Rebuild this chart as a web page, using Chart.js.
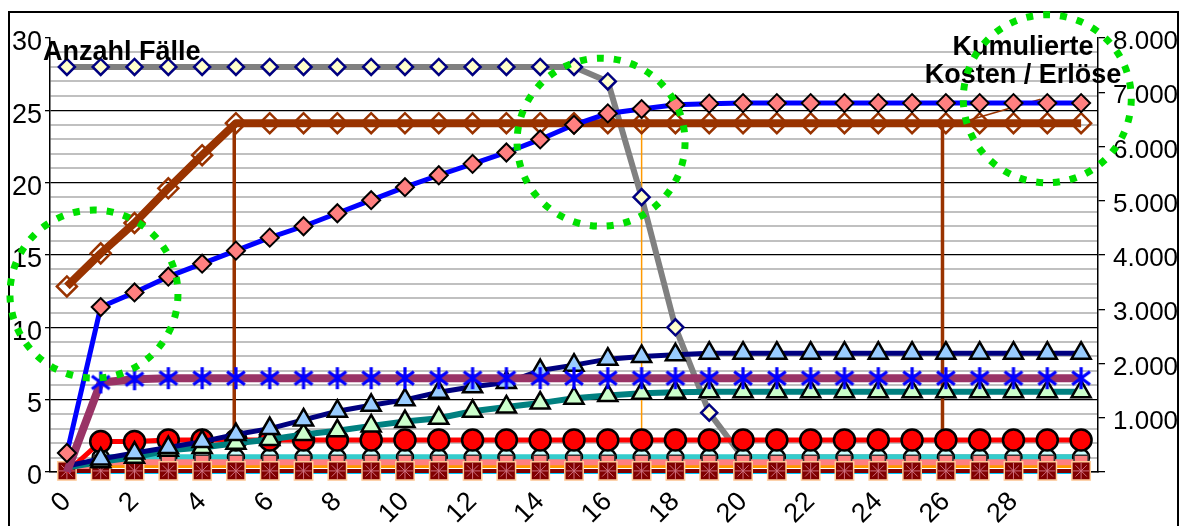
<!DOCTYPE html>
<html>
<head>
<meta charset="utf-8">
<script src="https://cdn.jsdelivr.net/npm/chart.js@4.4.1/dist/chart.umd.min.js"></script>
<style>
  body { margin: 0; background: #fff; }
  canvas { display: block; }
</style>
</head>
<body>
<canvas id="chart" width="1185" height="526"></canvas>
<script>
// Tage 0..30
const tage = [0, 1, 2, 3, 4, 5, 6, 7, 8, 9, 10, 11, 12, 13, 14, 15, 16, 17, 18, 19, 20, 21, 22, 23, 24, 25, 26, 27, 28, 29, 30];
const xBeschriftung = [0, 2, 4, 6, 8, 10, 12, 14, 16, 18, 20, 22, 24, 26, 28];

// linke Achse: Anzahl Fälle
const anzahlFaelle = [28, 28, 28, 28, 28, 28, 28, 28, 28, 28, 28, 28, 28, 28, 28, 28, 27, 19, 10, 4.1, 1, 1, 1, 1, 1, 1, 1, 1, 1, 1, 1];

// rechte Achse: kumulierte Kosten / Erlöse
const kostenGesamt = [350, 3040, 3310, 3600, 3840, 4080, 4320, 4530, 4770, 5010, 5250, 5470, 5680, 5890, 6130, 6400, 6610, 6690, 6770, 6790, 6800, 6800, 6800, 6800, 6800, 6800, 6800, 6800, 6800, 6800, 6800];
const erloese = [3420, 4030, 4590, 5230, 5840, 6430, 6430, 6430, 6430, 6430, 6430, 6430, 6430, 6430, 6430, 6430, 6430, 6430, 6430, 6430, 6430, 6430, 6430, 6430, 6430, 6430, 6430, 6430, 6430, 6430, 6430];
const kostenA = [0, 1650, 1710, 1730, 1730, 1730, 1730, 1730, 1730, 1730, 1730, 1730, 1730, 1730, 1730, 1730, 1730, 1730, 1730, 1730, 1730, 1730, 1730, 1730, 1730, 1730, 1730, 1730, 1730, 1730, 1730];
const kostenB = [110, 240, 350, 450, 560, 690, 800, 960, 1120, 1230, 1330, 1470, 1570, 1650, 1870, 1970, 2080, 2130, 2160, 2190, 2190, 2190, 2190, 2190, 2190, 2190, 2190, 2190, 2190, 2190, 2190];
const kostenC = [80, 190, 270, 400, 450, 530, 600, 690, 760, 850, 930, 990, 1120, 1200, 1270, 1360, 1410, 1450, 1470, 1480, 1480, 1480, 1480, 1480, 1480, 1480, 1480, 1480, 1480, 1480, 1480];
const kostenD = [0, 560, 560, 590, 590, 590, 590, 590, 590, 590, 590, 590, 590, 590, 590, 590, 590, 590, 590, 590, 590, 590, 590, 590, 590, 590, 590, 590, 590, 590, 590];
const kostenE = [0, 270, 270, 270, 270, 270, 270, 270, 270, 270, 270, 270, 270, 270, 270, 270, 270, 270, 270, 270, 270, 270, 270, 270, 270, 270, 270, 270, 270, 270, 270];
const kostenF = [0, 180, 180, 180, 180, 180, 180, 180, 180, 180, 180, 180, 180, 180, 180, 180, 180, 180, 180, 180, 180, 180, 180, 180, 180, 180, 180, 180, 180, 180, 180];
const kostenG = [0, 110, 110, 110, 110, 110, 110, 110, 110, 110, 110, 110, 110, 110, 110, 110, 110, 110, 110, 110, 110, 110, 110, 110, 110, 110, 110, 110, 110, 110, 110];
const kostenH = [20, 20, 20, 20, 20, 20, 20, 20, 20, 20, 20, 20, 20, 20, 20, 20, 20, 20, 20, 20, 20, 20, 20, 20, 20, 20, 20, 20, 20, 20, 20];
const kostenI = [0, 0, 0, 0, 0, 0, 0, 0, 0, 0, 0, 0, 0, 0, 0, 0, 0, 0, 0, 0, 0, 0, 0, 0, 0, 0, 0, 0, 0, 0, 0];

// senkrechte Markierungen auf der rechten Achse
const markierungBraun = [4.95, 25.9];
const markierungOrange = [17];
const markierungOben = 6430;
const markierungUnten = 780;
const schraegeLinie = [[26.5, 6450], [28.8, 6870]];

// grüne Kreise (Tag, Anzahl Fälle)
const kreise = [[0.8, 12.3], [15.8, 22.8], [29.0, 25.8]];

function punkte(werte) {
  return tage.map((t, i) => ({ x: t, y: werte[i] }));
}

function senkrechte(xs) {
  const p = [];
  xs.forEach(x => {
    p.push({ x: x, y: markierungOben }, { x: x, y: markierungUnten }, { x: x, y: null });
  });
  return p;
}

// Sternchen wie in Excel: senkrechter Strich und zwei Schrägen
function sternchen(farbe, r, breite) {
  const c = document.createElement('canvas');
  c.width = c.height = 2 * r + 4;
  const g = c.getContext('2d');
  const m = r + 2;
  g.strokeStyle = farbe;
  g.lineWidth = breite;
  g.beginPath();
  g.moveTo(m, m - r); g.lineTo(m, m + r);
  const dx = Math.cos(Math.PI / 5) * r, dy = Math.sin(Math.PI / 5) * r;
  g.moveTo(m - dx, m - dy); g.lineTo(m + dx, m + dy);
  g.moveTo(m - dx, m + dy); g.lineTo(m + dx, m - dy);
  g.stroke();
  return c;
}
const blauerStern = sternchen('#0000FF', 11, 3.2);

const ohneErsten = r => ctx => ctx.dataIndex === 0 ? 0 : r;

const schrift = '"Liberation Sans", Arial, sans-serif';

const zeichnungen = {
  id: 'zeichnungen',
  beforeDraw(chart) {
    const ctx = chart.ctx;
    ctx.save();
    ctx.fillStyle = '#fff';
    ctx.fillRect(0, 0, chart.width, chart.height);
    ctx.strokeStyle = '#000';
    ctx.lineWidth = 2;
    ctx.strokeRect(9, 12, 1169, 600);
    ctx.restore();
  },
  afterDraw(chart) {
    const ctx = chart.ctx;
    const area = chart.chartArea;
    ctx.save();
    ctx.fillStyle = '#000';
    ctx.font = 'bold 27px ' + schrift;
    ctx.textAlign = 'left';
    ctx.fillText('Anzahl Fälle', area.left - 7, 60);
    ctx.textAlign = 'center';
    ctx.fillText('Kumulierte', area.right - 75, 55);
    ctx.fillText('Kosten / Erlöse', area.right - 75, 83);

    // gepunktete Kreise
    ctx.strokeStyle = '#00E000';
    ctx.lineWidth = 7;
    ctx.setLineDash([7, 10]);
    kreise.forEach(k => {
      const cx = chart.scales.x.getPixelForValue(k[0]);
      const cy = chart.scales.y.getPixelForValue(k[1]);
      ctx.beginPath();
      ctx.arc(cx, cy, 84, 0, Math.PI * 2);
      ctx.stroke();
    });
    ctx.restore();
  }
};

new Chart(document.getElementById('chart'), {
  type: 'line',
  data: {
    datasets: [
      {
        data: punkte(kostenGesamt), yAxisID: 'y2', clip: false,
        borderColor: '#0000FF', borderWidth: 5,
        pointStyle: 'rectRot', pointRadius: 9,
        pointBackgroundColor: '#FF8080', pointBorderColor: '#000', pointBorderWidth: 2
      },
      {
        data: punkte(erloese), yAxisID: 'y2', clip: false,
        borderColor: '#993300', borderWidth: 8,
        pointStyle: 'rectRot', pointRadius: 10,
        pointBackgroundColor: 'rgba(0,0,0,0)', pointBorderColor: '#993300', pointBorderWidth: 2.5
      },
      {
        data: punkte(kostenA), yAxisID: 'y2', clip: false,
        borderColor: '#993366', borderWidth: 8,
        pointStyle: blauerStern, pointRadius: ohneErsten(11)
      },
      {
        data: punkte(kostenB), yAxisID: 'y2', clip: false,
        borderColor: '#000080', borderWidth: 5,
        pointStyle: 'triangle', pointRadius: ohneErsten(11),
        pointBackgroundColor: '#99CCFF', pointBorderColor: '#000', pointBorderWidth: 2.5
      },
      {
        data: punkte(kostenC), yAxisID: 'y2', clip: false,
        borderColor: '#008080', borderWidth: 6,
        pointStyle: 'triangle', pointRadius: ohneErsten(11),
        pointBackgroundColor: '#CCFFCC', pointBorderColor: '#000', pointBorderWidth: 2.5
      },
      {
        data: punkte(kostenD), yAxisID: 'y2', clip: false,
        borderColor: '#FF0000', borderWidth: 5,
        pointStyle: 'circle', pointRadius: ohneErsten(10.5),
        pointBackgroundColor: '#FF0000', pointBorderColor: '#000', pointBorderWidth: 2.5
      },
      {
        data: punkte(kostenH), yAxisID: 'y2', clip: false,
        borderColor: 'rgba(0,0,0,0)', borderWidth: 0,
        pointStyle: 'star', pointRadius: 8,
        pointBorderColor: '#D07080', pointBorderWidth: 1
      },
      {
        data: punkte(kostenH), yAxisID: 'y2', clip: false,
        borderColor: '#800000', borderWidth: 4,
        pointStyle: 'rect', pointRadius: 13,
        pointBackgroundColor: '#800000', pointBorderColor: '#FFCC99', pointBorderWidth: 1.5
      },
      {
        data: punkte(kostenF), yAxisID: 'y2', clip: false,
        borderColor: '#FF8080', borderWidth: 6,
        pointStyle: 'rect', pointRadius: ohneErsten(10),
        pointBackgroundColor: '#FF8080', pointBorderColor: '#333', pointBorderWidth: 1.5
      },
      {
        data: punkte(kostenE), yAxisID: 'y2', clip: false,
        borderColor: '#33CCCC', borderWidth: 6,
        pointStyle: 'circle', pointRadius: ohneErsten(8),
        pointBackgroundColor: '#CCFFFF', pointBorderColor: '#000', pointBorderWidth: 2.5
      },
      {
        data: punkte(anzahlFaelle), yAxisID: 'y', clip: false,
        borderColor: '#808080', borderWidth: 6,
        pointStyle: 'rectRot', pointRadius: ctx => ctx.dataIndex < 20 ? 8 : 0,
        pointBackgroundColor: '#FFFFCC', pointBorderColor: '#000080', pointBorderWidth: 2.5
      },
      {
        data: punkte(kostenG), yAxisID: 'y2', clip: false,
        borderColor: '#FF9900', borderWidth: 4, pointRadius: 0
      },
      {
        data: punkte(kostenI), yAxisID: 'y2', clip: false,
        borderColor: '#00CCFF', borderWidth: 4, pointRadius: 0
      },
      {
        data: senkrechte(markierungBraun), yAxisID: 'y2',
        borderColor: '#993300', borderWidth: 3.5, pointRadius: 0, spanGaps: false
      },
      {
        data: senkrechte(markierungOrange), yAxisID: 'y2',
        borderColor: '#FF9900', borderWidth: 1.5, pointRadius: 0, spanGaps: false
      },
      {
        data: schraegeLinie.map(p => ({ x: p[0], y: p[1] })), yAxisID: 'y2',
        borderColor: '#993300', borderWidth: 1.5, pointRadius: 0
      }
    ]
  },
  options: {
    responsive: false,
    animation: false,
    layout: { padding: { top: 38, left: 0, right: 0, bottom: 0 } },
    elements: { line: { tension: 0, borderJoinStyle: 'round' } },
    plugins: { legend: { display: false }, tooltip: { enabled: false } },
    scales: {
      x: {
        type: 'linear', min: -0.5, max: 30.5,
        afterBuildTicks: axis => { axis.ticks = xBeschriftung.map(v => ({ value: v })); },
        afterFit: axis => { axis.height = 54; },
        grid: { display: false },
        border: { display: true, color: '#000', width: 1.5 },
        ticks: {
          minRotation: 45, maxRotation: 45, autoSkip: false, padding: 6,
          color: '#000', font: { family: schrift, size: 27 }
        }
      },
      y: {
        position: 'left', min: 0, max: 30,
        afterFit: axis => { axis.width = 50; },
        ticks: {
          stepSize: 1, autoSkip: false, padding: 3, labelOffset: 5,
          color: '#000', font: { family: schrift, size: 27 },
          callback: v => v % 5 === 0 ? v : ''
        },
        grid: {
          color: ctx => ctx.tick.value === 30 ? 'rgba(0,0,0,0)' : (ctx.tick.value % 5 === 0 ? '#000' : '#C0C0C0'),
          lineWidth: ctx => ctx.tick.value % 5 === 0 ? 1.3 : 2,
          tickLength: 5,
          tickColor: ctx => ctx.tick.value % 5 === 0 ? '#000' : 'rgba(0,0,0,0)'
        },
        border: { color: '#000', width: 1.5 }
      },
      y2: {
        position: 'right', min: 0, max: 8000,
        afterFit: axis => { axis.width = 87; },
        ticks: {
          stepSize: 1000, padding: 8, labelOffset: 4,
          color: '#000', font: { family: schrift, size: 26 },
          callback: v => v === 0 ? '' : v.toLocaleString('de-DE')
        },
        grid: { drawOnChartArea: false, tickLength: 7, color: '#000', lineWidth: 1.3 },
        border: { color: '#000', width: 1.5 }
      }
    }
  },
  plugins: [zeichnungen]
});
</script>
</body>
</html>
